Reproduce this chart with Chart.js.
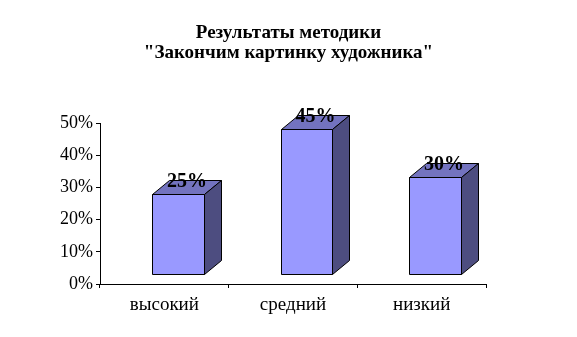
<!DOCTYPE html>
<html>
<head>
<meta charset="utf-8">
<script src="https://cdn.jsdelivr.net/npm/chart.js@4/dist/chart.umd.min.js"></script>
<style>
  html, body { margin: 0; padding: 0; background: #ffffff; }
  #wrap { width: 577px; height: 337px; }
</style>
</head>
<body>
<div id="wrap"><canvas id="c" width="577" height="337"></canvas></div>
<script>
const titleLines = ['Результаты методики', '"Закончим картинку художника"'];
const categories = ['высокий', 'средний', 'низкий'];
const values = [25, 45, 30];
const yTicks = [0, 10, 20, 30, 40, 50];

const FONT = '"Times New Roman", "Liberation Serif", serif';
const FRONT = '#9999FF', TOP = '#7373BF', SIDE = '#4D4D80';
const OFF_X = 13.5, OFF_Y = -10, DX = 17, DY = 14;

const bars3d = {
  id: 'bars3d',
  afterDatasetsDraw(chart) {
    const ctx = chart.ctx;
    const meta = chart.getDatasetMeta(0);
    ctx.save();
    ctx.lineWidth = 1;
    ctx.strokeStyle = '#000';
    ctx.lineJoin = 'miter';
    meta.data.forEach((el, i) => {
      const p = el.getProps(['x', 'y', 'base', 'width'], true);
      const l = Math.round(p.x - p.width / 2 + OFF_X) + 0.5;
      const r = Math.round(p.x + p.width / 2 + OFF_X) + 0.5;
      const t = Math.round(p.y + OFF_Y) + 0.5;
      const b = Math.round(p.base + OFF_Y) + 0.5;
      // front
      ctx.beginPath();
      ctx.rect(l, t, r - l, b - t);
      ctx.fillStyle = FRONT; ctx.fill(); ctx.stroke();
      // top
      ctx.beginPath();
      ctx.moveTo(l, t); ctx.lineTo(r, t); ctx.lineTo(r + DX, t - DY); ctx.lineTo(l + DX, t - DY); ctx.closePath();
      ctx.fillStyle = TOP; ctx.fill(); ctx.stroke();
      // side
      ctx.beginPath();
      ctx.moveTo(r, t); ctx.lineTo(r + DX, t - DY); ctx.lineTo(r + DX, b - DY); ctx.lineTo(r, b); ctx.closePath();
      ctx.fillStyle = SIDE; ctx.fill(); ctx.stroke();
      // label
      ctx.fillStyle = '#000';
      ctx.font = 'bold 20px ' + FONT;
      ctx.textAlign = 'center';
      ctx.textBaseline = 'middle';
      ctx.fillText(values[i] + '%', (l + r) / 2 + DX / 2, t - DY + 1);
    });
    ctx.restore();
  }
};

new Chart(document.getElementById('c'), {
  type: 'bar',
  data: {
    labels: categories,
    datasets: [{
      data: values,
      backgroundColor: 'rgba(0,0,0,0)',
      borderWidth: 0,
      categoryPercentage: 1,
      barPercentage: 0.404
    }]
  },
  options: {
    responsive: false,
    animation: false,
    devicePixelRatio: 1,
    layout: { padding: { left: 0, right: 0, top: 0, bottom: 0 } },
    plugins: {
      legend: { display: false },
      tooltip: { enabled: false },
      title: {
        display: true,
        text: titleLines,
        color: '#000',
        font: { family: FONT, size: 19, weight: 'bold', lineHeight: 20 / 19 },
        padding: { top: 23, bottom: 60 }
      }
    },
    scales: {
      x: {
        grid: { display: true, drawOnChartArea: false, drawTicks: true, tickLength: 4, color: '#000', offset: true },
        border: { display: true, color: '#000', width: 1 },
        ticks: { color: '#000', font: { family: FONT, size: 19 }, padding: 6, maxRotation: 0 },
        afterFit(s) { s.height = 53; }
      },
      y: {
        min: 0, max: 50,
        afterBuildTicks(s) { s.ticks = yTicks.map(v => ({ value: v })); },
        grid: { display: true, drawOnChartArea: false, drawTicks: true, tickLength: 4, color: '#000' },
        border: { display: true, color: '#000', width: 1 },
        ticks: { color: '#000', font: { family: FONT, size: 18 }, padding: 3, callback: v => v + '%' },
        afterFit(s) { s.width = 100; }
      },
      y2: {
        position: 'right',
        display: true,
        grid: { display: false },
        border: { display: false },
        ticks: { display: false },
        afterFit(s) { s.width = 91; }
      }
    }
  },
  plugins: [bars3d]
});
</script>
</body>
</html>
